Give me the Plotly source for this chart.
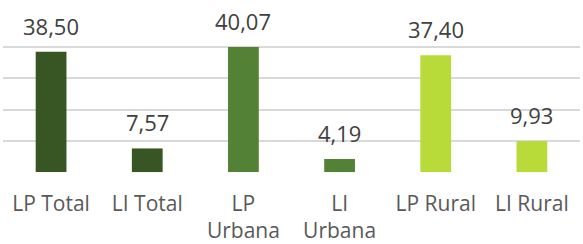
import plotly.graph_objects as go

categories = ["LP Total", "LI Total", "LP<br>Urbana", "LI<br>Urbana", "LP Rural", "LI Rural"]
values = [38.50, 7.57, 40.07, 4.19, 37.40, 9.93]
labels = ["38,50", "7,57", "40,07", "4,19", "37,40", "9,93"]
colors = ["#375623", "#375623", "#538135", "#538135", "#b8db3a", "#b8db3a"]

fig = go.Figure()
fig.add_trace(go.Bar(
    x=categories, y=values, marker=dict(color=colors, line=dict(width=0)),
    width=0.32, hoverinfo="skip",
))
for c, v, t in zip(categories, values, labels):
    fig.add_annotation(x=c, y=v, text=t, showarrow=False, yanchor="bottom",
                       yshift=9, font=dict(family="Open Sans", size=22, color="#404040"))

fig.update_layout(
    width=583, height=244,
    margin=dict(l=3, r=3, t=15, b=71),
    paper_bgcolor="white", plot_bgcolor="white",
    showlegend=False,
    font=dict(family="Open Sans", size=21, color="#595959"),
)
fig.update_yaxes(range=[-0.3, 50.3], tickvals=[0, 10, 20, 30, 40, 50], showgrid=True,
                 gridcolor="#d9d9d9", gridwidth=1.5, zeroline=False, showline=False,
                 showticklabels=False, fixedrange=True, automargin=False)
fig.update_xaxes(showgrid=False, showline=False, zeroline=False, ticks="",
                 ticklabelstandoff=16, automargin=False)
fig.write_html("out.html", config={"displayModeBar": False},
               post_script="document.body.style.margin='0';")
